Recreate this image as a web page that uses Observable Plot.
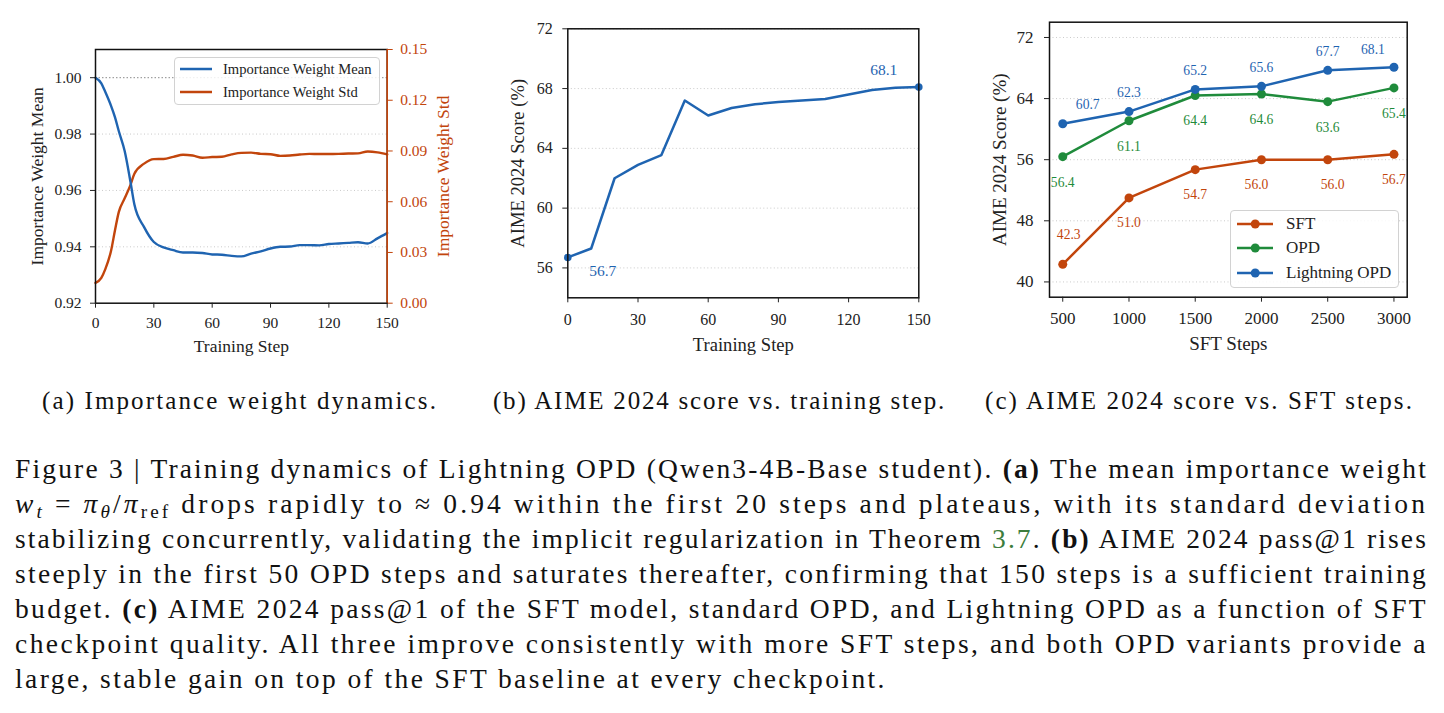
<!DOCTYPE html>
<html><head><meta charset="utf-8">
<script src="https://cdn.jsdelivr.net/npm/d3@7"></script>
<script src="https://cdn.jsdelivr.net/npm/@observablehq/plot@0.6"></script>
<style>
body{margin:0;background:#fff;}
#root{position:relative;width:1444px;height:713px;overflow:hidden;background:#fff;}
.panel{position:absolute;top:0;}
.legend{position:absolute;border:1px solid #d2d2d2;border-radius:4px;background:rgba(255,255,255,0.85);font-family:'Liberation Serif','Times New Roman',serif;color:#222;box-sizing:border-box;}
.legend .row{position:absolute;left:0;right:0;height:20px;}
.legend .row svg{position:absolute;top:0;}
.legend .row span{position:absolute;top:0;height:20px;line-height:20px;white-space:nowrap;font-family:'Liberation Serif','Times New Roman',serif;}
.subcap{position:absolute;top:386px;width:480px;height:30px;line-height:30px;font-family:'Liberation Serif','Times New Roman',serif;font-size:25px;text-align:center;white-space:nowrap;color:#111;}
.subcap span{display:inline-block;}
.cap{position:absolute;left:15px;top:451px;width:1413px;font-family:'Liberation Serif','Times New Roman',serif;font-size:27.5px;color:#111;}
.cap div{height:35px;line-height:35px;white-space:nowrap;text-align:left;}
.cap div.just{text-align:justify;text-align-last:justify;}
.cap sub{font-size:0.7em;line-height:0;vertical-align:-0.25em;}
.cap .g{color:#3d7d3d;}
</style>
</head><body>
<div id="root"></div>
<script>
// ---------------- data ----------------
// (a) importance weight dynamics
const stepsA = [0,3,5,8,10,12,15,18,20,25,30,35,40,45,50,55,60,65,70,75,80,85,90,95,100,105,110,115,120,125,130,135,140,145,150];
const meanA  = [1.000,0.998,0.995,0.990,0.986,0.981,0.974,0.963,0.955,0.947,0.9417,0.9398,0.9388,0.9380,0.9380,0.9378,0.9373,0.9372,0.9368,0.9366,0.9376,0.9384,0.9394,0.9400,0.9401,0.9406,0.9406,0.9405,0.9410,0.9412,0.9414,0.9416,0.9412,0.9430,0.9449];
const stdA   = [0.012,0.015,0.020,0.031,0.043,0.054,0.062,0.070,0.0765,0.0825,0.0852,0.0853,0.0865,0.0878,0.0873,0.0860,0.0864,0.0866,0.0880,0.0889,0.0890,0.0883,0.0881,0.0871,0.0873,0.0879,0.0883,0.0882,0.0882,0.0883,0.0885,0.0886,0.0897,0.0892,0.0880];
const meanTicks = [0.92,0.94,0.96,0.98,1.00];
const stdTicks  = [0,0.03,0.06,0.09,0.12,0.15];
const stepTicks = [0,30,60,90,120,150];

// (b) AIME 2024 score vs training step
const stepsB = [0,10,20,30,40,50,60,70,80,90,100,110,120,130,140,150];
const scoreB = [56.7,57.3,62.0,62.9,63.55,67.2,66.2,66.7,66.95,67.1,67.2,67.3,67.6,67.9,68.05,68.1];
const scoreTicksB = [56,60,64,68,72];

// (c) AIME 2024 score vs SFT steps
const sftSteps   = [500,1000,1500,2000,2500,3000];
const seriesC    = ["SFT","OPD","Lightning OPD"];
const sftScore   = [42.3,51.0,54.7,56.0,56.0,56.7];
const opdScore   = [56.4,61.1,64.4,64.6,63.6,65.4];
const lightScore = [60.7,62.3,65.2,65.6,67.7,68.1];
const scoreTicksC = [40,48,56,64,72];

// ---------------- styling ----------------
const blue = "#1f64b1", orange = "#c2450c", green = "#1f8b3b";
const FONT = "'Liberation Serif','Times New Roman',serif";
const root = document.getElementById("root");

function place(svg, left) {
  const wrap = document.createElement("div");
  wrap.className = "panel";
  wrap.style.left = left + "px";
  wrap.appendChild(svg);
  root.appendChild(wrap);
}
const baseStyle = (fs) => ({fontFamily: FONT, fontSize: fs + "px", color: "#222", background: "transparent", overflow: "visible"});
const grid = (ticks) => Plot.gridY(ticks, {stroke: "#b5b5b5", strokeOpacity: 0.9, strokeDasharray: "1,2.5", strokeWidth: 0.8});

// ---------------- panel (a) ----------------
const rowsA = stepsA.map((s, i) => ({step: s, mean: meanA[i], std: stdA[i]}));
const stdToY = v => 0.92 + v * 0.6;          // std axis [0, 0.15] shares the frame with mean axis [0.92, 1.01]
const yToStd = y => (y - 0.92) / 0.6;

const pa = Plot.plot({
  width: 480, height: 370,
  marginLeft: 95, marginRight: 93.3, marginTop: 49, marginBottom: 67.3,
  style: baseStyle(15.5),
  x: {domain: [0, 150]},
  y: {domain: [0.92, 1.01]},
  marks: [
    grid([0.94, 0.96, 0.98]),
    Plot.ruleY([1.0], {stroke: "#8a8a8a", strokeDasharray: "1.5,2", strokeWidth: 1}),
    Plot.line(rowsA, {x: "step", y: d => stdToY(d.std), stroke: orange, strokeWidth: 2.4, curve: "monotone-x"}),
    Plot.line(rowsA, {x: "step", y: "mean", stroke: blue, strokeWidth: 2.4, curve: "monotone-x"}),
    Plot.frame({stroke: "#111", strokeWidth: 1.5}),
    Plot.ruleX([150], {stroke: orange, strokeWidth: 1.6}),
    Plot.axisX({ticks: stepTicks, tickFormat: d => String(d), tickSize: 5, tickPadding: 9, label: null}),
    Plot.axisY({ticks: meanTicks, tickFormat: d => d.toFixed(2), tickSize: 5, tickPadding: 9, label: null}),
    Plot.axisY({anchor: "right", ticks: stdTicks.map(stdToY), tickFormat: d => yToStd(d).toFixed(2), tickSize: 5, tickPadding: 8, color: orange, label: null}),
    Plot.text(["Training Step"], {text: d => d, frameAnchor: "bottom", lineAnchor: "middle", dy: 43.3, fontSize: 17.5, fill: "#222"}),
    Plot.text(["Importance Weight Mean"], {text: d => d, frameAnchor: "left", textAnchor: "middle", lineAnchor: "middle", rotate: -90, dx: -58.3, fontSize: 17.5, fill: "#222"}),
    Plot.text(["Importance Weight Std"], {text: d => d, frameAnchor: "right", textAnchor: "middle", lineAnchor: "middle", rotate: -90, dx: 56.6, fontSize: 17.5, fill: orange})
  ]
});
place(pa, 0);

// ---------------- panel (b) ----------------
const rowsB = stepsB.map((s, i) => ({step: s, score: scoreB[i]}));
const lastB = rowsB.length - 1;
const pb = Plot.plot({
  width: 480, height: 370,
  marginLeft: 87.3, marginRight: 41.7, marginTop: 28.3, marginBottom: 72.7,
  style: baseStyle(16),
  x: {domain: [0, 150]},
  y: {domain: [54, 72]},
  marks: [
    grid(scoreTicksB),
    Plot.line(rowsB, {x: "step", y: "score", stroke: blue, strokeWidth: 2.5}),
    Plot.dot(rowsB, {filter: (d, i) => i === 0 || i === lastB, x: "step", y: "score", r: 3.8, fill: blue}),
    Plot.text(rowsB, {filter: (d, i) => i === 0, x: "step", y: "score", text: d => d.score.toFixed(1), dx: 35, dy: 14, fill: blue, fontSize: 15.5}),
    Plot.text(rowsB, {filter: (d, i) => i === lastB, x: "step", y: "score", text: d => d.score.toFixed(1), dx: -35, dy: -17, fill: blue, fontSize: 15.5}),
    Plot.frame({stroke: "#111", strokeWidth: 1.5}),
    Plot.axisX({ticks: stepTicks, tickFormat: d => String(d), tickSize: 5, tickPadding: 11, label: null}),
    Plot.axisY({ticks: scoreTicksB, tickFormat: d => String(d), tickSize: 5, tickPadding: 10, label: null}),
    Plot.text(["Training Step"], {text: d => d, frameAnchor: "bottom", lineAnchor: "middle", dy: 47, fontSize: 18.6, fill: "#222"}),
    Plot.text(["AIME 2024 Score (%)"], {text: d => d, frameAnchor: "left", textAnchor: "middle", lineAnchor: "middle", rotate: -90, dx: -50, fontSize: 18.6, fill: "#222"})
  ]
});
place(pb, 480);

// ---------------- panel (c) ----------------
const mk = (vals, name) => sftSteps.map((s, i) => ({series: name, step: s, score: vals[i], i}));
const rowsSFT = mk(sftScore, seriesC[0]);
const rowsOPD = mk(opdScore, seriesC[1]);
const rowsLOPD = mk(lightScore, seriesC[2]);
const lab = (rows, color, filter, dx, dy) =>
  Plot.text(rows, {filter, x: "step", y: "score", text: d => d.score.toFixed(1), dx, dy, fill: color, fontSize: 13.6});

const pc = Plot.plot({
  width: 484, height: 370,
  marginLeft: 89, marginRight: 37.3, marginTop: 21.7, marginBottom: 73.3,
  style: baseStyle(17),
  x: {domain: [400, 3100]},
  y: {domain: [38, 74]},
  marks: [
    grid(scoreTicksC),
    Plot.line(rowsSFT, {x: "step", y: "score", stroke: orange, strokeWidth: 2.5}),
    Plot.dot(rowsSFT, {x: "step", y: "score", r: 4.5, fill: orange}),
    Plot.line(rowsOPD, {x: "step", y: "score", stroke: green, strokeWidth: 2.5}),
    Plot.dot(rowsOPD, {x: "step", y: "score", r: 4.5, fill: green}),
    Plot.line(rowsLOPD, {x: "step", y: "score", stroke: blue, strokeWidth: 2.5}),
    Plot.dot(rowsLOPD, {x: "step", y: "score", r: 4.5, fill: blue}),
    // value labels
    lab(rowsLOPD, blue, d => d.i === 0, 25, -19),
    lab(rowsLOPD, blue, d => d.i > 0 && d.i < 5, 0, -19),
    lab(rowsLOPD, blue, d => d.i === 5, -21, -18),
    lab(rowsOPD, green, d => true, 0, 25.5),
    lab(rowsSFT, orange, d => d.i === 0, 6, -30),
    lab(rowsSFT, orange, d => d.i === 1 || d.i === 2 || d.i === 5, 0, 25),
    lab(rowsSFT, orange, d => d.i === 3, -5, 25),
    lab(rowsSFT, orange, d => d.i === 4, 5, 25),
    Plot.frame({stroke: "#111", strokeWidth: 1.5}),
    Plot.axisX({ticks: sftSteps, tickFormat: d => String(d), tickSize: 5, tickPadding: 10, label: null}),
    Plot.axisY({ticks: scoreTicksC, tickFormat: d => String(d), tickSize: 5, tickPadding: 11, label: null}),
    Plot.text(["SFT Steps"], {text: d => d, frameAnchor: "bottom", lineAnchor: "middle", dy: 46.7, fontSize: 19, fill: "#222"}),
    Plot.text(["AIME 2024 Score (%)"], {text: d => d, frameAnchor: "left", textAnchor: "middle", lineAnchor: "middle", rotate: -90, dx: -50, fontSize: 19, fill: "#222"})
  ]
});
place(pc, 960);

// ---------------- legends ----------------
function legend(left, top, w, h, fs, entries) {
  const box = document.createElement("div");
  box.className = "legend";
  Object.assign(box.style, {left: left + "px", top: top + "px", width: w + "px", height: h + "px", fontSize: fs + "px"});
  for (const e of entries) {
    const row = document.createElement("div");
    row.className = "row";
    row.style.top = (e.cy - 10) + "px";
    const marker = e.dot ? `<circle cx="${(e.x1 - e.x0) / 2}" cy="10" r="4.5" fill="${e.color}"/>` : "";
    row.innerHTML = `<svg width="${e.x1 - e.x0}" height="20" style="left:${e.x0}px"><line x1="0" x2="${e.x1 - e.x0}" y1="10" y2="10" stroke="${e.color}" stroke-width="2.5"/>${marker}</svg><span style="left:${e.tx}px">${e.label}</span>`;
    box.appendChild(row);
  }
  root.appendChild(box);
}
legend(174, 57, 206, 48, 14.6, [
  {label: "Importance Weight Mean", color: blue, cy: 11, x0: 5, x1: 37, tx: 48},
  {label: "Importance Weight Std", color: orange, cy: 33.5, x0: 5, x1: 37, tx: 48}
]);
legend(1230, 210, 169, 78, 17, [
  {label: seriesC[0], color: orange, cy: 13, x0: 5.5, x1: 42, tx: 55, dot: true},
  {label: seriesC[1], color: green, cy: 37, x0: 5.5, x1: 42, tx: 55, dot: true},
  {label: seriesC[2], color: blue, cy: 62, x0: 5.5, x1: 42, tx: 55, dot: true}
]);

// ---------------- sub-captions and caption ----------------
function naturalWidth(el) {
  const r = document.createRange();
  r.selectNodeContents(el);
  return r.getBoundingClientRect().width;
}
// widen the Times-like glyph runs to the measured width of the original typeset lines
function spreadTo(el, target) {
  el.style.letterSpacing = "0px";
  const w = naturalWidth(el);
  const n = el.textContent.length;
  const ls = Math.max(0, (target - w) / n);
  el.style.letterSpacing = ls + "px";
  return ls;
}
const subcaps = [
  {c: 240, w: 396, t: "(a) Importance weight dynamics."},
  {c: 719.5, w: 453, t: "(b) AIME 2024 score vs. training step."},
  {c: 1199.5, w: 429, t: "(c) AIME 2024 score vs. SFT steps."}
];
for (const s of subcaps) {
  const d = document.createElement("div");
  d.className = "subcap";
  d.style.left = (s.c - 240) + "px";
  const sp = document.createElement("span");
  sp.textContent = s.t;
  d.appendChild(sp);
  root.appendChild(d);
  spreadTo(sp, s.w);
}
const capLines = [
  "Figure 3 | Training dynamics of Lightning OPD (Qwen3-4B-Base student). <b>(a)</b> The mean importance weight",
  "<i>w</i><sub><i>t</i></sub> = <i>π</i><sub><i>θ</i></sub>/<i>π</i><sub>ref</sub> drops rapidly to ≈ 0.94 within the first 20 steps and plateaus, with its standard deviation",
  "stabilizing concurrently, validating the implicit regularization in Theorem <span class=\"g\">3.7</span>. <b>(b)</b> AIME 2024 pass@1 rises",
  "steeply in the first 50 OPD steps and saturates thereafter, confirming that 150 steps is a sufficient training",
  "budget. <b>(c)</b> AIME 2024 pass@1 of the SFT model, standard OPD, and Lightning OPD as a function of SFT",
  "checkpoint quality. All three improve consistently with more SFT steps, and both OPD variants provide a",
  "large, stable gain on top of the SFT baseline at every checkpoint."
];
const cap = document.createElement("div");
cap.className = "cap";
root.appendChild(cap);
const lineEls = capLines.map(l => {
  const d = document.createElement("div");
  d.innerHTML = l;
  cap.appendChild(d);
  return d;
});
const spacings = [];
lineEls.forEach((d, i) => {
  if (i < lineEls.length - 1) {
    spacings.push(spreadTo(d, 1411));
    d.classList.add("just");
  }
});
lineEls[lineEls.length - 1].style.letterSpacing = (d3.mean(spacings) || 0) + "px";
</script>
</body></html>
